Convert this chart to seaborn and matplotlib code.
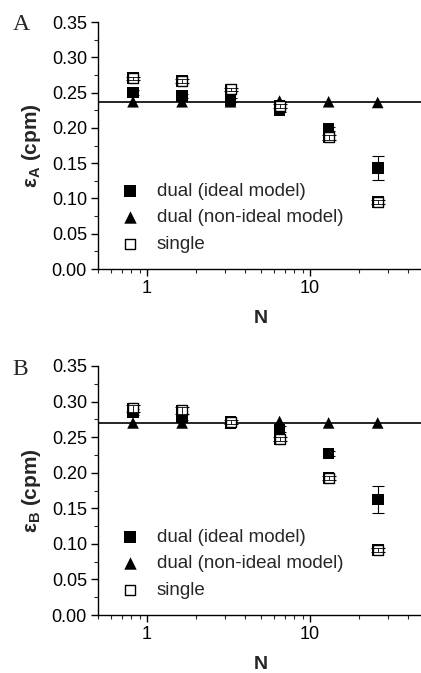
import numpy as np
import pandas as pd
import matplotlib
matplotlib.use("Agg")
import matplotlib.pyplot as plt
from matplotlib.ticker import MultipleLocator, LogLocator, NullFormatter, FixedLocator, FixedFormatter
import seaborn as sns

# ---------------- data ----------------
N = [0.82, 1.64, 3.25, 6.5, 13, 26]

# Panel A
A_ideal = [0.250, 0.2455, 0.2395, 0.225, 0.198, 0.1435]
A_ideal_err = [0.003, 0.003, 0.003, 0.003, 0.003, 0.017]
A_nonideal = [0.237, 0.237, 0.237, 0.238, 0.237, 0.236]
A_single = [0.2705, 0.266, 0.2545, 0.231, 0.1865, 0.095]
A_single_err = [0.002, 0.003, 0.002, 0.003, 0.003, 0.003]
A_line = 0.2366

# Panel B
B_ideal = [0.285, 0.278, 0.270, 0.261, 0.227, 0.1625]
B_ideal_err = [0.004, 0.004, 0.002, 0.004, 0.003, 0.019]
B_nonideal = [0.270, 0.270, 0.270, 0.272, 0.270, 0.270]
B_single = [0.2905, 0.2875, 0.271, 0.247, 0.193, 0.0915]
B_single_err = [0.005, 0.005, 0.003, 0.003, 0.003, 0.003]
B_line = 0.2695

labels = ["dual (ideal model)", "dual (non-ideal model)", "single"]
yticks = [0.00, 0.05, 0.10, 0.15, 0.20, 0.25, 0.30, 0.35]

sns.set_style("ticks")
plt.rcParams["font.family"] = ["Liberation Sans", "DejaVu Sans"]
plt.rcParams["mathtext.fontset"] = "custom"
plt.rcParams["mathtext.rm"] = "Liberation Sans"
plt.rcParams["mathtext.bf"] = "Liberation Sans:bold"
plt.rcParams["mathtext.it"] = "Liberation Sans:italic"

fig = plt.figure(figsize=(4.21, 6.73), dpi=100)
axA = fig.add_axes([98/421, 404/673, 326/421, 247/673])
axB = fig.add_axes([98/421, 58/673, 326/421, 249/673])


def panel(ax, ideal, ideal_err, nonideal, single, single_err, line, sub, letter, ly):
    df = pd.DataFrame({"N": N * 3,
                       "eps": ideal + nonideal + single,
                       "series": [labels[0]] * 6 + [labels[1]] * 6 + [labels[2]] * 6})
    ax.axhline(line, color="black", lw=1.2, zorder=1)
    # error bars
    ax.errorbar(N, single, yerr=single_err, fmt="none", ecolor="black",
                elinewidth=0.8, capsize=5, capthick=0.8, zorder=2)
    ax.errorbar(N, ideal, yerr=ideal_err, fmt="none", ecolor="black",
                elinewidth=0.8, capsize=4, capthick=0.8, zorder=2)
    sns.scatterplot(data=df, x="N", y="eps", hue="series", style="series",
                    markers={labels[0]: "s", labels[1]: "^", labels[2]: "s"},
                    palette={labels[0]: "black", labels[1]: "black", labels[2]: "black"},
                    s=70, linewidth=0, ax=ax, legend=False, zorder=3)
    # make the single squares hollow: redraw on top
    ax.scatter(N, single, marker="s", s=55, facecolor="white", edgecolor="black",
               linewidth=1.0, zorder=4)
    ax.errorbar(N, single, yerr=single_err, fmt="none", ecolor="black",
                elinewidth=0.6, capsize=4, capthick=0.6, zorder=5)

    ax.set_xscale("log")
    ax.set_xlim(0.5, 50)
    ax.set_ylim(0, 0.35)
    ax.yaxis.set_major_locator(FixedLocator(yticks))
    ax.yaxis.set_major_formatter(FixedFormatter([f"{v:.2f}" for v in yticks]))
    ax.yaxis.set_minor_locator(MultipleLocator(0.025))
    ax.xaxis.set_major_locator(FixedLocator([1, 10]))
    ax.xaxis.set_major_formatter(FixedFormatter(["1", "10"]))
    ax.xaxis.set_minor_locator(LogLocator(base=10, subs=np.arange(2, 10)))
    ax.xaxis.set_minor_formatter(NullFormatter())
    ax.tick_params(axis="both", which="major", direction="out", length=5, width=1,
                   labelsize=13, colors="black", pad=3)
    ax.tick_params(axis="both", which="minor", direction="out", length=3, width=0.8)
    for s in ["top", "right"]:
        ax.spines[s].set_visible(False)
    for s in ["left", "bottom"]:
        ax.spines[s].set_linewidth(1.0)
        ax.spines[s].set_color("black")
    ax.set_xlabel("N", fontsize=14, fontweight="bold", labelpad=9)
    ax.set_ylabel(r"ε$_\mathbf{" + sub + r"}$ (cpm)", fontsize=15, fontweight="bold", labelpad=6)

    # legend
    h1 = ax.scatter([], [], marker="s", s=70, color="black", linewidth=0)
    h2 = ax.scatter([], [], marker="^", s=80, color="black", linewidth=0)
    h3 = ax.scatter([], [], marker="s", s=55, facecolor="white", edgecolor="black", linewidth=1.0)
    ax.legend([h1, h2, h3], labels, loc="lower left", bbox_to_anchor=(0.04, 0.035),
              frameon=False, fontsize=13.5, handletextpad=0.85, labelspacing=0.5,
              borderaxespad=0, handlelength=1.2)
    ax.text(-0.262, ly, letter, transform=ax.transAxes, fontsize=17,
            family=["Liberation Serif", "DejaVu Serif"], va="center", ha="left")


panel(axA, A_ideal, A_ideal_err, A_nonideal, A_single, A_single_err, A_line, "A", "A", 0.99)
panel(axB, B_ideal, B_ideal_err, B_nonideal, B_single, B_single_err, B_line, "B", "B", 0.985)

fig.savefig("out.png", dpi=100)
